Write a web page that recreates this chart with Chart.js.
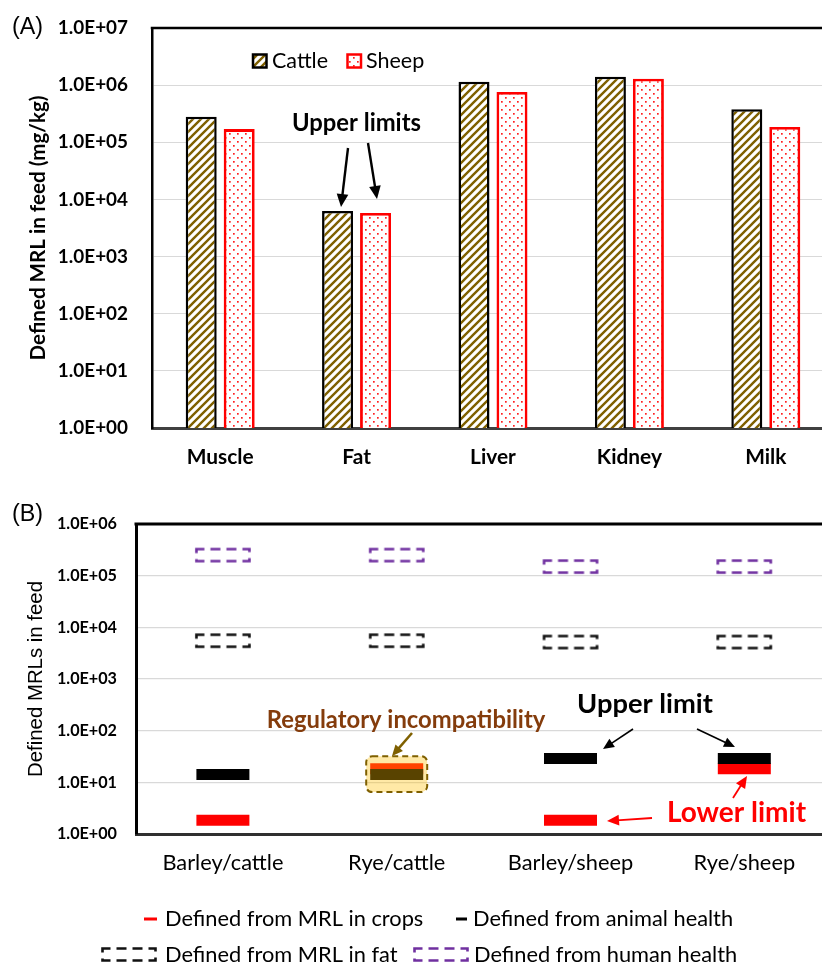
<!DOCTYPE html>
<html><head><meta charset="utf-8">
<script src="https://cdn.jsdelivr.net/npm/chart.js@4.4.1/dist/chart.umd.min.js"></script>
<style>
html,body{margin:0;padding:0;background:#fff;overflow:hidden;}
#wrap{position:relative;width:822px;height:967px;}
#ca{position:absolute;left:0;top:0;}
#cb{position:absolute;left:0;top:480px;}
</style></head><body>
<div id="wrap">
<canvas id="ca" width="822" height="480"></canvas>
<canvas id="cb" width="822" height="487"></canvas>
</div>
<script>
// ---------- DATA ----------
const tissues = ['Muscle', 'Fat', 'Liver', 'Kidney', 'Milk'];
const cattleMRL = [2.8e5, 6.3e3, 1.15e6, 1.4e6, 3.8e5];
const sheepMRL = [1.7e5, 5.8e3, 7.6e5, 1.3e6, 1.85e5];
const tickValuesA = [1, 10, 100, 1e3, 1e4, 1e5, 1e6, 1e7];
const tickLabelsA = ['1.0E+00', '1.0E+01', '1.0E+02', '1.0E+03', '1.0E+04', '1.0E+05', '1.0E+06', '1.0E+07'];

const feedGroups = ['Barley/cattle', 'Rye/cattle', 'Barley/sheep', 'Rye/sheep'];
const cropMRL = [1.85, 18.3, 1.85, 18.3];
const animalHealth = [14.1, 14.1, 29, 29];
const fatMRL = [5.5e3, 5.5e3, 5.2e3, 5.2e3];
const humanHealth = [2.5e5, 2.5e5, 1.5e5, 1.5e5];
const tickValuesB = [1, 10, 100, 1e3, 1e4, 1e5, 1e6];
const tickLabelsB = ['1.0E+00', '1.0E+01', '1.0E+02', '1.0E+03', '1.0E+04', '1.0E+05', '1.0E+06'];

// ---------- STYLE HELPERS ----------
const FONT = 'Lato, "Open Sans", sans-serif';
const ARIAL = '"Liberation Sans", Arial, sans-serif';
const mctx = document.createElement('canvas').getContext('2d');
function fit(text, weight, family, target) {
  mctx.font = weight + ' 100px ' + family;
  return Math.round(1000 * target / mctx.measureText(text).width) / 10;
}
const sz = {
  aTick: fit('1.0E+07', 'bold', FONT, 70),
  aCat: fit('Muscle', 'bold', FONT, 67),
  aTitle: fit('Defined MRL in feed (mg/kg)', 'bold', FONT, 265),
  aLeg: fit('Cattle', 'normal', FONT, 56),
  aNote: fit('Upper limits', 'bold', FONT, 129),
  panel: fit('(A)', 'normal', ARIAL, 31),
  bTick: fit('1.0E+06', 'bold', FONT, 60),
  bCat: fit('Barley/cattle', 'normal', FONT, 121),
  bTitle: fit('Defined MRLs in feed', 'normal', ARIAL, 196),
  bLeg: fit('Defined from MRL in crops', 'normal', FONT, 258),
  bReg: fit('Regulatory incompatibility', 'bold', FONT, 279),
  bUp: fit('Upper limit', 'bold', FONT, 136),
  bLow: fit('Lower limit', 'bold', FONT, 139)
};

function makeHatch(ctx) {
  const c = document.createElement('canvas'); c.width = 8; c.height = 8;
  const x = c.getContext('2d');
  x.fillStyle = '#fff'; x.fillRect(0, 0, 8, 8);
  x.strokeStyle = '#7f6000'; x.lineWidth = 2.4; x.beginPath();
  x.moveTo(-2, 10); x.lineTo(10, -2);
  x.moveTo(-2, 2); x.lineTo(2, -2);
  x.moveTo(6, 10); x.lineTo(10, 6);
  x.stroke();
  return ctx.createPattern(c, 'repeat');
}
function makeDots(ctx) {
  const c = document.createElement('canvas'); c.width = 8; c.height = 8;
  const x = c.getContext('2d');
  x.fillStyle = '#fff'; x.fillRect(0, 0, 8, 8);
  x.fillStyle = '#ff2020';
  x.fillRect(1, 1, 1.7, 1.7); x.fillRect(5, 5, 1.7, 1.7);
  return ctx.createPattern(c, 'repeat');
}
function dashBox(color) {
  const c = document.createElement('canvas'); c.width = 58; c.height = 17;
  const x = c.getContext('2d');
  x.strokeStyle = color; x.lineWidth = 2.6; x.setLineDash([10, 6]); x.lineDashOffset = 2;
  x.strokeRect(2.5, 2.5, 53, 12);
  return c;
}
function arrow(ctx, x1, y1, x2, y2, color, lw, head) {
  const a = Math.atan2(y2 - y1, x2 - x1), c = Math.cos(a), s = Math.sin(a), hw = head * 0.45;
  ctx.strokeStyle = color; ctx.fillStyle = color; ctx.lineWidth = lw;
  ctx.beginPath(); ctx.moveTo(x1, y1); ctx.lineTo(x2 - c * head * 0.8, y2 - s * head * 0.8); ctx.stroke();
  ctx.beginPath(); ctx.moveTo(x2, y2);
  ctx.lineTo(x2 - head * c + hw * s, y2 - head * s - hw * c);
  ctx.lineTo(x2 - head * c - hw * s, y2 - head * s + hw * c);
  ctx.closePath(); ctx.fill();
}
function text(ctx, t, x, y, size, weight, family, color, align) {
  ctx.font = weight + ' ' + size + 'px ' + family;
  ctx.fillStyle = color; ctx.textAlign = align || 'center'; ctx.textBaseline = 'middle';
  ctx.fillText(t, x, y);
}
function noPad(s) { s.paddingTop = 0; s.paddingBottom = 0; s.paddingLeft = 0; s.paddingRight = 0; }

// ---------- CHART A ----------
const ctxA = document.getElementById('ca').getContext('2d');
const hatchP = makeHatch(ctxA), dotP = makeDots(ctxA);

const plugA = {
  id: 'plugA',
  afterDraw(chart) {
    const { ctx, chartArea: a } = chart;
    ctx.save();
    ctx.strokeStyle = '#000'; ctx.lineWidth = 2.5;
    ctx.beginPath(); ctx.moveTo(a.left - 1.25, a.top); ctx.lineTo(a.right, a.top); ctx.stroke();
    text(ctx, '(A)', 12, 28, sz.panel, 'normal', ARIAL, '#000', 'left');
    // legend
    ctx.fillStyle = hatchP; ctx.fillRect(253, 54.5, 13.5, 13);
    ctx.strokeStyle = '#000'; ctx.lineWidth = 2.5; ctx.strokeRect(253, 54.5, 13.5, 13);
    text(ctx, 'Cattle', 272, 61.5, sz.aLeg, 'normal', FONT, '#000', 'left');
    ctx.fillStyle = dotP; ctx.fillRect(347.5, 54.5, 13.5, 13);
    ctx.strokeStyle = '#ff0000'; ctx.lineWidth = 2.5; ctx.strokeRect(347.5, 54.5, 13.5, 13);
    text(ctx, 'Sheep', 366, 61.5, sz.aLeg, 'normal', FONT, '#000', 'left');
    // annotation
    text(ctx, 'Upper limits', 356.5, 123, sz.aNote, 'bold', FONT, '#000');
    arrow(ctx, 348, 148, 341, 207, '#000', 2.4, 13);
    arrow(ctx, 368, 143, 377, 199, '#000', 2.4, 13);
    ctx.restore();
  }
};

new Chart(ctxA, {
  type: 'bar',
  data: {
    datasets: [
      { label: 'Cattle', data: tissues.map((t, i) => ({ x: i, y: cattleMRL[i] })),
        backgroundColor: hatchP, borderColor: '#000', borderWidth: 2.5 },
      { label: 'Sheep', data: tissues.map((t, i) => ({ x: i, y: sheepMRL[i] })),
        backgroundColor: dotP, borderColor: '#ff0000', borderWidth: 2.8 }
    ]
  },
  options: {
    responsive: false, animation: false, events: [],
    categoryPercentage: 0.557, barPercentage: 0.816,
    layout: { autoPadding: false, padding: { top: 28, left: 0, right: 0, bottom: 0 } },
    plugins: { legend: { display: false }, tooltip: { enabled: false } },
    scales: {
      x: {
        type: 'linear', min: -0.5, max: 4.412, offset: false,
        grid: { display: false, drawTicks: false },
        border: { color: '#404040', width: 3 },
        afterBuildTicks: s => { s.ticks = tissues.map((t, i) => ({ value: i })); },
        afterFit: s => { s.height = 52; noPad(s); },
        ticks: { autoSkip: false, maxRotation: 0, minRotation: 0, padding: 17, color: '#000',
          font: { family: FONT, size: sz.aCat, weight: 'bold' },
          callback: v => tissues[v] }
      },
      y: {
        type: 'logarithmic', min: 1, max: 1e7,
        grid: { color: '#d9d9d9', lineWidth: 1, drawTicks: false },
        border: { color: '#000', width: 2.5 },
        afterBuildTicks: s => { s.ticks = tickValuesA.map(v => ({ value: v, major: true })); },
        afterFit: s => { s.width = 152; noPad(s); },
        ticks: { autoSkip: false, padding: 24, color: '#000',
          font: { family: FONT, size: sz.aTick, weight: 'bold' },
          callback: v => tickLabelsA[Math.round(Math.log10(v))] },
        title: { display: true, text: 'Defined MRL in feed (mg/kg)', color: '#000',
          font: { family: FONT, size: sz.aTitle, weight: 'bold' },
          padding: { top: 38 - 0.6 * sz.aTitle, bottom: 0 } }
      }
    }
  },
  plugins: [plugA]
});

// ---------- CHART B ----------
const ctxB = document.getElementById('cb').getContext('2d');
const boxBlack = dashBox('#111'), boxPurple = dashBox('#7030a0');

const plugB = {
  id: 'plugB',
  afterDatasetsDraw(chart) {
    const { ctx, scales: { x, y } } = chart;
    const cx = x.getPixelForValue(1);
    const top = y.getPixelForValue(cropMRL[1]) - 12.5;
    const bot = y.getPixelForValue(animalHealth[1]) + 17.5;
    ctx.save();
    ctx.beginPath(); ctx.roundRect(cx - 30.5, top, 61, bot - top, 6);
    ctx.fillStyle = 'rgba(255,192,0,0.35)'; ctx.fill();
    ctx.setLineDash([6, 4]); ctx.strokeStyle = '#7f6000'; ctx.lineWidth = 2; ctx.stroke();
    ctx.restore();
  },
  afterDraw(chart) {
    const { ctx, chartArea: a } = chart;
    ctx.save();
    ctx.strokeStyle = '#000'; ctx.lineWidth = 3;
    ctx.beginPath(); ctx.moveTo(a.left - 1.5, a.top); ctx.lineTo(a.right, a.top); ctx.stroke();
    text(ctx, '(B)', 12, 35, sz.panel, 'normal', ARIAL, '#000', 'left');
    // annotations
    text(ctx, 'Regulatory incompatibility', 406, 240.5, sz.bReg, 'bold', FONT, '#843c0c');
    arrow(ctx, 412, 253, 392, 276, '#7f6000', 2.5, 11);
    text(ctx, 'Upper limit', 645, 224, sz.bUp, 'bold', FONT, '#000');
    arrow(ctx, 633, 249, 603, 269, '#000', 1.6, 11);
    arrow(ctx, 697, 249, 735, 267, '#000', 1.6, 11);
    text(ctx, 'Lower limit', 736.5, 333, sz.bLow, 'bold', FONT, '#ff0000');
    arrow(ctx, 652, 338, 607, 341, '#ff0000', 1.8, 12);
    arrow(ctx, 733, 318, 747, 296, '#ff0000', 1.8, 12);
    // legend
    ctx.fillStyle = '#ff0000'; ctx.fillRect(144, 437.5, 13, 3);
    text(ctx, 'Defined from MRL in crops', 165, 439, sz.bLeg, 'normal', FONT, '#000', 'left');
    ctx.fillStyle = '#000'; ctx.fillRect(456, 437.5, 11, 3);
    text(ctx, 'Defined from animal health', 473, 439, sz.bLeg, 'normal', FONT, '#000', 'left');
    ctx.drawImage(boxBlack, 100, 466);
    text(ctx, 'Defined from MRL in fat', 165, 474.5, sz.bLeg, 'normal', FONT, '#000', 'left');
    ctx.drawImage(boxPurple, 412, 466);
    text(ctx, 'Defined from human health', 474, 474.5, sz.bLeg, 'normal', FONT, '#000', 'left');
    ctx.restore();
  }
};

function pts(arr) { return feedGroups.map((g, i) => ({ x: i, y: arr[i] })); }

new Chart(ctxB, {
  type: 'line',
  data: {
    datasets: [
      { label: 'Defined from animal health', data: pts(animalHealth), showLine: false,
        pointStyle: 'line', pointRadius: 26.5, pointBorderWidth: 11,
        pointBorderColor: '#000', pointBackgroundColor: '#000' },
      { label: 'Defined from MRL in crops', data: pts(cropMRL), showLine: false,
        pointStyle: 'line', pointRadius: 26.5, pointBorderWidth: 11,
        pointBorderColor: '#ff0000', pointBackgroundColor: '#ff0000' },
      { label: 'Defined from MRL in fat', data: pts(fatMRL), showLine: false,
        pointStyle: boxBlack, pointRadius: 5 },
      { label: 'Defined from human health', data: pts(humanHealth), showLine: false,
        pointStyle: boxPurple, pointRadius: 5 }
    ]
  },
  options: {
    responsive: false, animation: false, events: [],
    layout: { autoPadding: false, padding: { top: 44, left: 0, right: 0, bottom: 0 } },
    plugins: { legend: { display: false }, tooltip: { enabled: false } },
    scales: {
      x: {
        type: 'linear', min: -0.5, max: 3.447, offset: false,
        grid: { display: false, drawTicks: false },
        border: { color: '#303030', width: 3 },
        afterBuildTicks: s => { s.ticks = feedGroups.map((g, i) => ({ value: i })); },
        afterFit: s => { s.height = 133; noPad(s); },
        ticks: { autoSkip: false, maxRotation: 0, minRotation: 0, padding: 16, color: '#000',
          font: { family: FONT, size: sz.bCat, weight: 'normal' },
          callback: v => feedGroups[v] }
      },
      y: {
        type: 'logarithmic', min: 1, max: 1e6,
        grid: { color: '#d9d9d9', lineWidth: 1.2, drawTicks: false },
        border: { color: '#000', width: 3 },
        afterBuildTicks: s => { s.ticks = tickValuesB.map(v => ({ value: v, major: true })); },
        afterFit: s => { s.width = 136; noPad(s); },
        ticks: { autoSkip: false, padding: 19, color: '#000',
          font: { family: FONT, size: sz.bTick, weight: 'bold' },
          callback: v => tickLabelsB[Math.round(Math.log10(v))] },
        title: { display: true, text: 'Defined MRLs in feed', color: '#000',
          font: { family: ARIAL, size: sz.bTitle, weight: 'normal' },
          padding: { top: 36.5 - 0.6 * sz.bTitle, bottom: 0 } }
      }
    }
  },
  plugins: [plugB]
});
</script>
</body></html>
